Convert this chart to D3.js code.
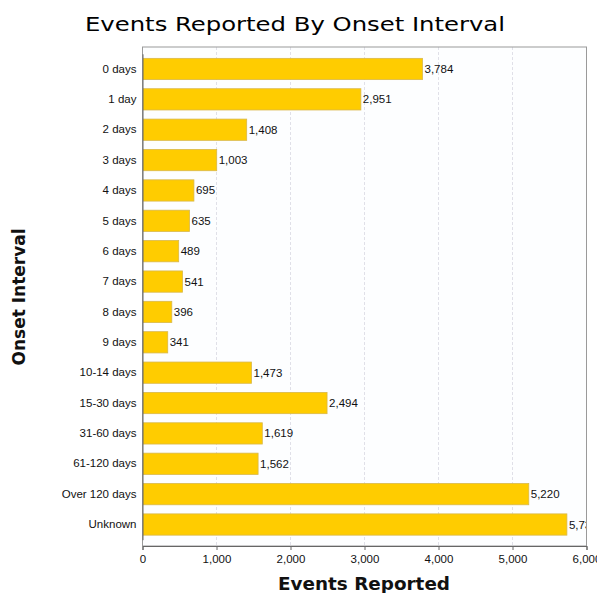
<!DOCTYPE html>
<html><head><meta charset="utf-8">
<script src="https://cdn.jsdelivr.net/npm/d3@7"></script>
<style>body{margin:0;background:#fff}</style>
</head><body>
<script>
const categories = ["0 days","1 day","2 days","3 days","4 days","5 days","6 days","7 days","8 days","9 days","10-14 days","15-30 days","31-60 days","61-120 days","Over 120 days","Unknown"];
const values = [3784,2951,1408,1003,695,635,489,541,396,341,1473,2494,1619,1562,5220,5735];
const xTicks = [0,1000,2000,3000,4000,5000,6000];
const title = "Events Reported By Onset Interval";
const xTitle = "Events Reported";
const yTitle = "Onset Interval";

(function(){
const W = 597, H = 593;
const pL = 142.5, pR = 586.5, pT = 47, pB = 546;
const svg = d3.select("body").append("svg").attr("width", W).attr("height", H);

const x = d3.scaleLinear().domain([0, 6000]).range([pL, pR]);
const y = d3.scaleBand().domain(categories).range([53.8, 539.7]).paddingInner(0.3).paddingOuter(0.15);

svg.append("defs").append("clipPath").attr("id","pc")
  .append("rect").attr("x", pL).attr("y", pT).attr("width", pR-pL).attr("height", pB-pT);

svg.append("rect").attr("x", pL).attr("y", pT).attr("width", pR-pL).attr("height", pB-pT)
  .attr("fill", "#fdfeff");

svg.append("g").selectAll("line").data(xTicks.slice(1, -1)).join("line")
  .attr("x1", d => x(d)).attr("x2", d => x(d)).attr("y1", pT).attr("y2", pB)
  .attr("stroke", "#e0e0e8").attr("stroke-dasharray", "3,2").attr("stroke-width", 1);

svg.append("g").selectAll("rect").data(values).join("rect")
  .attr("x", x(0)).attr("y", (d,i) => y(categories[i]))
  .attr("width", d => x(d) - x(0)).attr("height", y.bandwidth())
  .attr("fill", "#ffcc00").attr("stroke", "#d9b84a").attr("stroke-width", 0.8);

svg.append("g").attr("clip-path", "url(#pc)").selectAll("text").data(values).join("text")
  .attr("x", d => x(d) + 2).attr("y", (d,i) => y(categories[i]) + y.bandwidth()/2 + 4)
  .attr("font-family", "Liberation Sans, Arial, sans-serif").attr("font-size", 11.5).attr("fill", "#111")
  .text(d => d3.format(",")(d));

svg.append("rect").attr("x", pL).attr("y", pT).attr("width", pR-pL).attr("height", pB-pT)
  .attr("fill", "none").attr("stroke", "#9a9a9a").attr("stroke-width", 1);

const xa = svg.append("g").attr("transform", `translate(0,${pB})`)
  .call(d3.axisBottom(x).tickValues(xTicks).tickFormat(d3.format(",")).tickSize(4).tickPadding(5));
xa.select(".domain").attr("stroke", "#666");
xa.selectAll(".tick line").attr("stroke", "#666");
xa.selectAll("text").attr("font-family", "Liberation Sans, Arial, sans-serif").attr("font-size", 11.5).attr("fill", "#111");

const ya = svg.append("g").attr("transform", `translate(${pL},0)`)
  .call(d3.axisLeft(y).tickSize(0).tickPadding(6));
ya.select(".domain").attr("stroke", "#666");
ya.selectAll("text").attr("font-family", "Liberation Sans, Arial, sans-serif").attr("font-size", 11.5).attr("fill", "#111");

svg.append("text").attr("x", 295).attr("y", 31).attr("text-anchor", "middle")
  .attr("font-family", "DejaVu Sans, Verdana, sans-serif").attr("font-size", 20).attr("fill", "#000")
  .attr("textLength", 420).attr("lengthAdjust", "spacingAndGlyphs")
  .text(title);

svg.append("text").attr("x", 364).attr("y", 590).attr("text-anchor", "middle")
  .attr("font-family", "DejaVu Sans, Verdana, sans-serif").attr("font-size", 17.5).attr("font-weight", "bold").attr("fill", "#111")
  .attr("textLength", 172).attr("lengthAdjust", "spacingAndGlyphs")
  .text(xTitle);

svg.append("text").attr("transform", "translate(25,297) rotate(-90)").attr("text-anchor", "middle")
  .attr("font-family", "DejaVu Sans, Verdana, sans-serif").attr("font-size", 17).attr("font-weight", "bold").attr("fill", "#111")
  .text(yTitle);
})();
</script>
</body></html>
